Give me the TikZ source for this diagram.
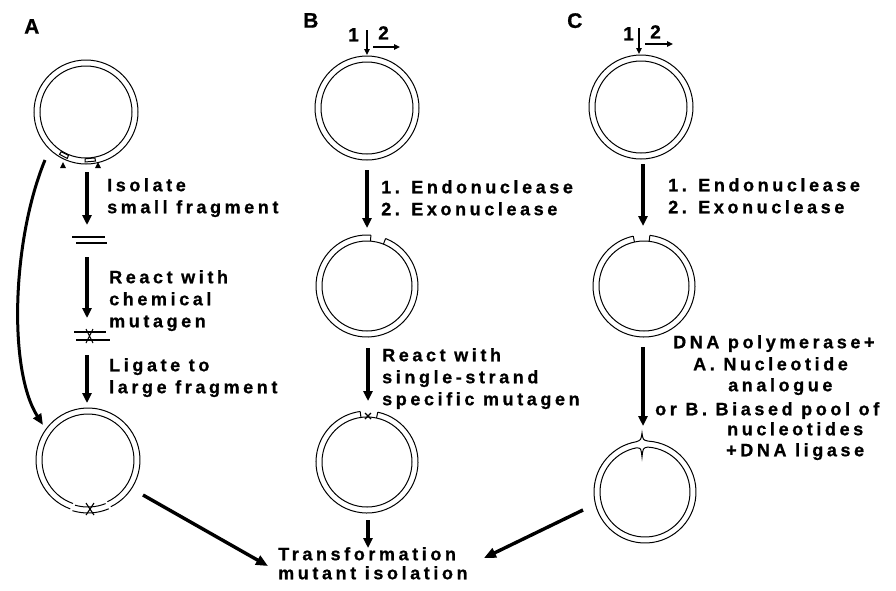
\documentclass[tikz,border=0pt]{standalone}
\usepackage{fontspec}
\setmainfont{Liberation Sans}
\newfontfamily\txtfont{Liberation Sans Bold}[LetterSpace=20,FakeBold=0.8]
\newfontfamily\plainlab{Liberation Sans Bold}[FakeBold=0.8]
\usetikzlibrary{arrows.meta,calc}
\begin{document}
\begin{tikzpicture}[x=1pt,y=-1pt,
  ring/.style={line width=1pt},
  frag/.style={line width=1.5pt},
  bigarrow/.style={line width=3.4pt,-{Triangle[length=10pt,width=9pt]}},
  thinarrow/.style={line width=1.4pt,-{Triangle[length=6pt,width=5.5pt]}},
  diagarrow/.style={line width=3.4pt,-{Triangle[length=12pt,width=10pt]}},
  txt/.style={font=\txtfont\fontsize{18}{22}\selectfont, align=left, inner sep=0pt, anchor=north west},
  panel/.style={font=\plainlab\fontsize{21}{21}\selectfont, inner sep=0pt, anchor=north west},
  num/.style={font=\plainlab\fontsize{19}{19}\selectfont, inner sep=0pt, anchor=north west}]
\fill[white] (0,0) rectangle (896,590);
\useasboundingbox (0,0) rectangle (896,590);

% panel labels
\node[panel] (lA) at (24,19) {A};
\node[panel] (lB) at (303,13) {B};
\node[panel] (lC) at (567,13) {C};

% ---------------- column A ----------------
\coordinate (rA1) at (86,112);
\draw[ring] (rA1) circle[radius=52];
\draw[ring] (rA1) circle[radius=46];
\draw[ring,fill=white] ($(rA1)+(112:46.8)$) -- ($(rA1)+(122:46.8)$) -- ($(rA1)+(122:50)$) -- ($(rA1)+(112:50)$) -- cycle;
\draw[ring,fill=white] ($(rA1)+(79:46.8)$) -- ($(rA1)+(91:46.8)$) -- ($(rA1)+(91:50)$) -- ($(rA1)+(79:50)$) -- cycle;
\fill (63,162) -- (60,168) -- (66,168) -- cycle;
\fill (98,162) -- (95,168) -- (101,168) -- cycle;

\coordinate (a1s) at (87,172); \coordinate (a1e) at (87,225);
\draw[bigarrow] (a1s) -- (a1e);
\node[txt] (tA1) at (107,178) {Isolate\\small fragment};

\draw[frag] (72,237) -- (105,237);
\draw[frag] (76,243) -- (107,243);

\coordinate (a2s) at (87,257); \coordinate (a2e) at (87,318);
\draw[bigarrow] (a2s) -- (a2e);
\node[txt] (tA2) at (109,270) {React with\\chemical\\mutagen};

\draw[frag] (74,332) -- (106,332);
\draw[frag] (76,340) -- (110,340);
\draw[line width=1.1pt] (86,329) -- (93,343) (93,329) -- (86,343);

\coordinate (a3s) at (87,355); \coordinate (a3e) at (87,403);
\draw[bigarrow] (a3s) -- (a3e);
\node[txt] (tA3) at (109,358) {Ligate to\\large fragment};

\coordinate (rA3) at (88,460);
\draw[ring] (rA3) ++(110:52) arc[start angle=110,end angle=424,radius=52];
\draw[ring] (rA3) ++(67:53) arc[start angle=67,end angle=107,radius=53];
\draw[ring] (rA3) ++(109:46) arc[start angle=109,end angle=425,radius=46];
\draw[ring] (rA3) ++(68:47) arc[start angle=68,end angle=106,radius=47];
\draw[line width=1.1pt] (86,503) -- (94,515) (94,503) -- (86,515);

% curved arrow
\coordinate (cvs) at (45,160); \coordinate (cve) at (43,425);
\draw[line width=3pt,-{Triangle[length=11pt,width=9pt]}] (cvs) .. controls (12,240) and (8,370) .. (cve);

% ---------------- column B ----------------
\coordinate (b1t) at (367,30); \coordinate (b1b) at (367,55);
\draw[thinarrow] (b1t) -- (b1b);
\coordinate (b2l) at (373,47); \coordinate (b2r) at (400,47);
\draw[thinarrow] (b2l) -- (b2r);
\node[num] (nB1) at (348,28) {1};
\node[num] (nB2) at (378,26) {2};

\coordinate (rB1) at (367,108);
\draw[ring] (rB1) circle[radius=52];
\draw[ring] (rB1) circle[radius=46];

\coordinate (b3s) at (367,170); \coordinate (b3e) at (367,228);
\draw[bigarrow] (b3s) -- (b3e);
\node[txt] (tB1) at (381,180) {1. Endonuclease\\2. Exonuclease};

\coordinate (rB2) at (367,286);
\draw[ring] (rB2) ++(-68.6:51) arc[start angle=-68.6,end angle=274.4,radius=51];
\draw[ring] ($(rB2)+(-85.6:51)$) -- ($(rB2)+(-85.6:45)$);
\draw[ring] ($(rB2)+(-68.6:51)$) -- ($(rB2)+(-68.6:45)$);
\draw[ring] (rB2) circle[radius=45];

\coordinate (b4s) at (368,348); \coordinate (b4e) at (368,401);
\draw[bigarrow] (b4s) -- (b4e);
\node[txt] (tB2) at (382,348) {React with\\single-strand\\specific mutagen};

\coordinate (rB3) at (367,462);
\draw[ring] (rB3) ++(-77.8:51) arc[start angle=-77.8,end angle=262.3,radius=51];
\draw[ring] ($(rB3)+(-97.7:51)$) -- ($(rB3)+(-97.7:45)$);
\draw[ring] ($(rB3)+(-77.8:51)$) -- ($(rB3)+(-77.8:45)$);
\draw[ring] (rB3) circle[radius=45];
\draw[line width=1.1pt] (365,413) -- (371,419) (371,413) -- (365,419);

\coordinate (b5s) at (368,520); \coordinate (b5e) at (368,548);
\draw[bigarrow] (b5s) -- (b5e);

\node[txt,font=\txtfont\fontsize{18}{19}\selectfont] (tT) at (278,547) {Transformation\\mutant isolation};

% ---------------- column C ----------------
\coordinate (c1t) at (639,28); \coordinate (c1b) at (639,54);
\draw[thinarrow] (c1t) -- (c1b);
\coordinate (c2l) at (645,44); \coordinate (c2r) at (673,44);
\draw[thinarrow] (c2l) -- (c2r);
\node[num] (nC1) at (623,27) {1};
\node[num] (nC2) at (650,25) {2};

\coordinate (rC1) at (641,107);
\draw[ring] (rC1) circle[radius=52];
\draw[ring] (rC1) circle[radius=46];

\coordinate (c3s) at (643,164); \coordinate (c3e) at (643,226);
\draw[bigarrow] (c3s) -- (c3e);
\node[txt] (tC1) at (668,178) {1. Endonuclease\\2. Exonuclease};

\coordinate (rC2) at (644,286);
\draw[ring] (rC2) ++(-83.4:51) arc[start angle=-83.4,end angle=257.8,radius=51];
\draw[ring] ($(rC2)+(-102.2:51)$) -- ($(rC2)+(-102.2:45)$);
\draw[ring] ($(rC2)+(-83.4:51)$) -- ($(rC2)+(-83.4:45)$);
\draw[ring] (rC2) circle[radius=45];

\coordinate (c4s) at (643,347); \coordinate (c4e) at (643,426);
\draw[bigarrow] (c4s) -- (c4e);
\node[txt] (tC2a) at (673,335) {DNA polymerase+};
\node[txt] (tC2b) at (693,357) {A. Nucleotide};
\node[txt] (tC2c) at (728,378) {analogue};
\node[txt] (tC2d) at (655,402) {or B. Biased pool of};
\node[txt] (tC2e) at (727,422) {nucleotides};
\node[txt] (tC2f) at (726,443) {+DNA ligase};

\coordinate (rC3) at (645,492);
\coordinate (c3o2) at ($(rC3)+(-86.5:51)$);
\coordinate (c3i2) at ($(rC3)+(-86.5:45)$);
\coordinate (c3top) at (642,433);
\coordinate (c3bot) at (642,457);
\draw[ring] (c3o2) arc[start angle=-86.5,end angle=260,radius=51] .. controls (641,440) .. (c3top) .. controls (643,440) .. (c3o2);
\draw[ring] (c3i2) arc[start angle=-86.5,end angle=259,radius=45] .. controls (641,448) .. (c3bot) .. controls (643,448) .. (c3i2);

% ---------------- to transformation ----------------
\coordinate (dAs) at (143,495); \coordinate (dAe) at (268,566);
\draw[diagarrow] (dAs) -- (dAe);
\coordinate (dCs) at (583,510); \coordinate (dCe) at (484,558);
\draw[diagarrow] (dCs) -- (dCe);
\end{tikzpicture}
\end{document}
